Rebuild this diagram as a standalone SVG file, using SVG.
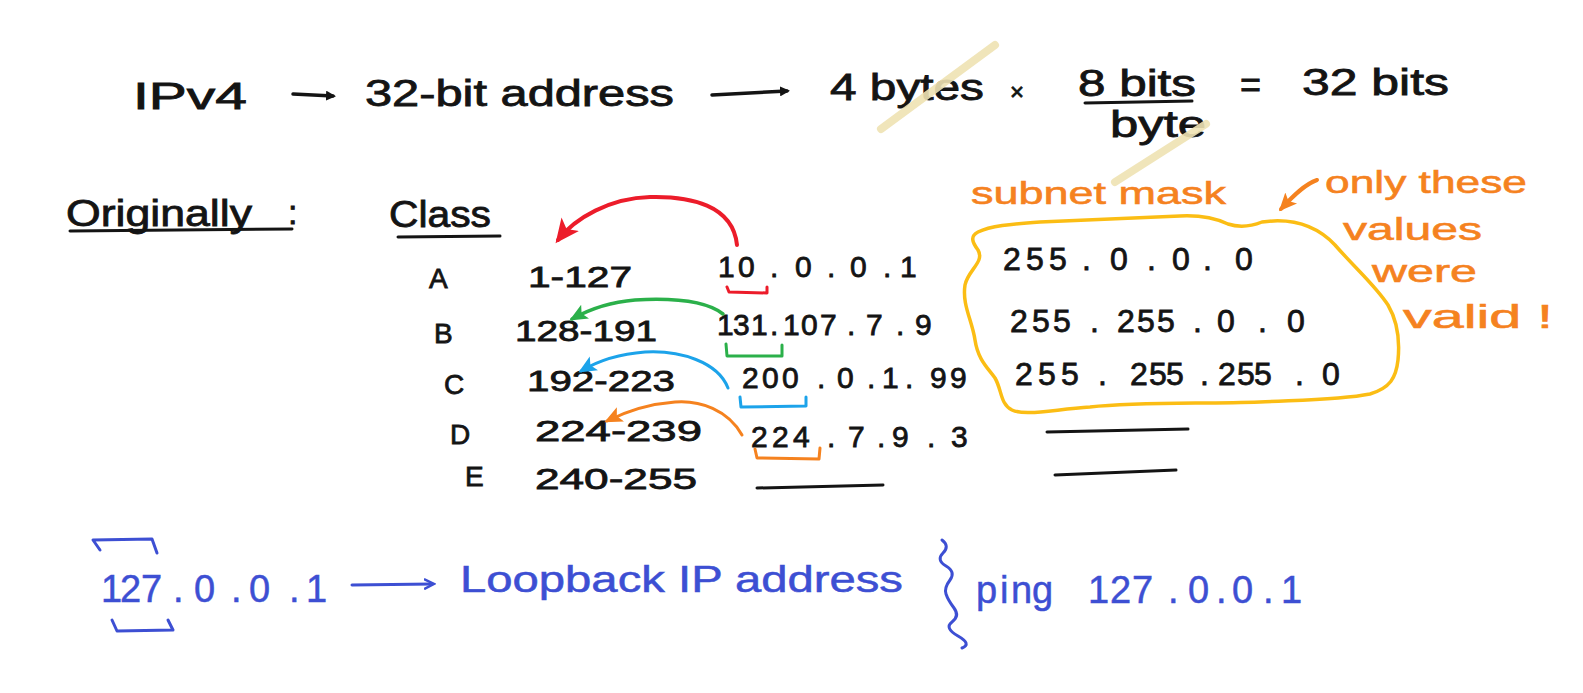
<svg xmlns="http://www.w3.org/2000/svg" width="1583" height="693" viewBox="0 0 1583 693">
<style>
text{font-family:"Liberation Sans","DejaVu Sans",sans-serif;}
.k{fill:#141414;stroke:#141414;stroke-width:0.8;}
.o{fill:#f5821f;stroke:#f5821f;stroke-width:0.6;}
.b{fill:#3d4fd3;stroke:#3d4fd3;stroke-width:0.5;}
.ln{fill:none;stroke-linecap:round;stroke-linejoin:round;}
</style>
<defs>
<marker id="hk" markerWidth="10" markerHeight="10" refX="7" refY="5" orient="auto" markerUnits="userSpaceOnUse"><path d="M0,0 L10,5 L0,10 z" fill="#141414"/></marker>
<marker id="hr" markerWidth="26" markerHeight="26" refX="20" refY="13" orient="auto" markerUnits="userSpaceOnUse"><path d="M0,2 L24,13 L0,24 L6,13 z" fill="#ec1c2a"/></marker>
<marker id="hg" markerWidth="20" markerHeight="20" refX="15" refY="10" orient="auto" markerUnits="userSpaceOnUse"><path d="M0,2 L18,10 L0,18 L4,10 z" fill="#2bb04a"/></marker>
<marker id="hb" markerWidth="20" markerHeight="20" refX="15" refY="10" orient="auto" markerUnits="userSpaceOnUse"><path d="M0,2 L18,10 L0,18 L4,10 z" fill="#1ca3ea"/></marker>
<marker id="ho" markerWidth="20" markerHeight="20" refX="15" refY="10" orient="auto" markerUnits="userSpaceOnUse"><path d="M0,2 L18,10 L0,18 L4,10 z" fill="#f5821f"/></marker>
<marker id="hu" markerWidth="12" markerHeight="12" refX="8" refY="6" orient="auto" markerUnits="userSpaceOnUse"><path d="M0,1 L10,6 L0,11" fill="none" stroke="#3d4fd3" stroke-width="2.5"/></marker>
</defs>
<rect width="1583" height="693" fill="#ffffff"/>

<!-- top row -->
<g id="ipv4"><text class="k" x="133" y="109" font-size="36" textLength="114" lengthAdjust="spacingAndGlyphs">IPv4</text></g>
<g id="addr"><text class="k" x="365" y="106" font-size="36" textLength="309" lengthAdjust="spacingAndGlyphs">32-bit address</text></g>
<g id="bytes"><text class="k" x="830" y="100" font-size="36" textLength="154" lengthAdjust="spacingAndGlyphs">4 bytes</text></g>
<g id="times"><text class="k" x="1010" y="100" font-size="24">×</text></g>
<g id="bits8"><text class="k" x="1078" y="96" font-size="36" textLength="118" lengthAdjust="spacingAndGlyphs">8 bits</text>
<path class="ln" d="M1085,103 L1192,101" stroke="#141414" stroke-width="3"/></g>
<g id="byte"><text class="k" x="1110" y="137" font-size="36" textLength="96" lengthAdjust="spacingAndGlyphs">byte</text></g>
<g id="result"><text class="k" x="1240" y="97" font-size="36">=</text>
<text class="k" x="1302" y="95" font-size="36" textLength="147" lengthAdjust="spacingAndGlyphs">32 bits</text></g>
<g id="strikes"><path class="ln" d="M881,129 L995,45" stroke="#eee2b2" stroke-width="8" opacity="0.9"/>
<path class="ln" d="M1115,182 L1206,124" stroke="#eee2b2" stroke-width="8" opacity="0.9"/></g>

<!-- headings -->
<g id="originally"><text class="k" x="66" y="226" font-size="36" textLength="186" lengthAdjust="spacingAndGlyphs">Originally</text>
<path class="ln" d="M70,231 L292,229" stroke="#141414" stroke-width="3"/>
<text class="k" x="288" y="224" font-size="34">:</text></g>
<g id="class"><text class="k" x="389" y="227" font-size="36" textLength="102" lengthAdjust="spacingAndGlyphs">Class</text>
<path class="ln" d="M398,237 L500,236" stroke="#141414" stroke-width="3"/></g>

<!-- class letters and ranges -->
<g id="classA"><text class="k" x="429" y="288" font-size="28">A</text><text class="k" x="528" y="287" font-size="30" textLength="104" lengthAdjust="spacingAndGlyphs">1-127</text></g>
<g id="classB"><text class="k" x="434" y="343" font-size="28">B</text><text class="k" x="515" y="341" font-size="30" textLength="142" lengthAdjust="spacingAndGlyphs">128-191</text></g>
<g id="classC"><text class="k" x="444" y="394" font-size="28">C</text><text class="k" x="527" y="391" font-size="30" textLength="148" lengthAdjust="spacingAndGlyphs">192-223</text></g>
<g id="classD"><text class="k" x="450" y="444" font-size="28">D</text><text class="k" x="535" y="441" font-size="30" textLength="167" lengthAdjust="spacingAndGlyphs">224-239</text></g>
<g id="classE"><text class="k" x="465" y="486" font-size="28">E</text><text class="k" x="535" y="489" font-size="30" textLength="162" lengthAdjust="spacingAndGlyphs">240-255</text></g>

<!-- example IPs -->
<g id="ipA"><text class="k" x="718 738 770 795 827 850 883 900" y="277" font-size="30">10.0.0.1</text></g>
<g id="ipB"><text class="k" x="717 733 751 770 783 801 820 847 866 896 915" y="335" font-size="30">131.107.7.9</text></g>
<g id="ipC"><text class="k" x="742 762 782 817 837 867 882 905 930 950" y="388" font-size="30">200.0.1.99</text></g>
<g id="ipD"><text class="k" x="751 772 793 827 848 877 892 927 951" y="447" font-size="30">224.7.9.3</text></g>
<g id="ipE"><path class="ln" d="M757,488 L883,485" stroke="#141414" stroke-width="3"/></g>

<!-- subnet masks -->
<g id="maskLabel"><text class="o" x="971" y="204" font-size="32" textLength="255" lengthAdjust="spacingAndGlyphs">subnet mask</text></g>
<g id="masks">
<path class="ln" d="M978,232 C990,226 1010,224 1040,222 C1080,220 1130,218 1180,216 C1200,215 1215,218 1228,224 C1240,228 1252,226 1262,222 C1290,218 1315,224 1335,245 C1355,268 1375,285 1388,305 C1398,322 1400,340 1398,360 C1396,378 1390,388 1370,394 C1340,400 1300,400 1260,402 C1200,404 1140,402 1090,407 C1050,410 1025,416 1012,410 C1000,404 1002,390 995,378 C988,368 978,360 975,340 C972,320 962,305 965,285 C968,270 985,262 978,250 C972,242 970,236 978,232 Z" stroke="#fbbd14" stroke-width="3.5"/>
<text class="k" x="1003 1026 1049 1082 1110 1147 1172 1203 1235" y="270" font-size="32">255.0.0.0</text>
<text class="k" x="1010 1032 1053 1090 1117 1137 1157 1193 1217 1258 1287" y="332" font-size="32">255.255.0.0</text>
<text class="k" x="1015 1038 1061 1098 1130 1149 1166 1200 1218 1237 1254 1295 1322" y="385" font-size="32">255.255.255.0</text>
<path class="ln" d="M1047,432 L1188,429" stroke="#141414" stroke-width="3"/>
<path class="ln" d="M1055,475 L1176,470" stroke="#141414" stroke-width="3"/>
</g>

<!-- note -->
<g id="note">
<text class="o" x="1325" y="193" font-size="32" textLength="202" lengthAdjust="spacingAndGlyphs">only these</text>
<text class="o" x="1343" y="240" font-size="32" textLength="139" lengthAdjust="spacingAndGlyphs">values</text>
<text class="o" x="1372" y="282" font-size="32" textLength="105" lengthAdjust="spacingAndGlyphs">were</text>
<text class="o" x="1403" y="328" font-size="34" textLength="150" lengthAdjust="spacingAndGlyphs">valid !</text>
</g>

<!-- loopback -->
<g id="loopback">
<path class="ln" d="M100,550 L93,540 L152,539 L157,553" stroke="#3d4fd3" stroke-width="3"/>
<text class="b" x="101 120 141 173 194 231 249 289 306" y="602" font-size="38">127.0.0.1</text>
<path class="ln" d="M112,620 L117,631 L173,630 L168,620" stroke="#3d4fd3" stroke-width="3"/>
<text class="b" x="460" y="592" font-size="36" textLength="443" lengthAdjust="spacingAndGlyphs">Loopback IP address</text>
<path class="ln" d="M942,540 Q950,546 943,553 T946,566 T950,580 T946,594 T954,608 T952,622 T958,636 T962,648" stroke="#3d4fd3" stroke-width="3"/>
<text class="b" x="976 1000 1011 1032 1059 1088 1110 1132 1168 1188 1216 1232 1263 1281" y="603" font-size="38">ping 127.0.0.1</text>
</g>

<!-- connectors -->
<g id="connectors">
<path class="ln" d="M293,94 L333,96" stroke="#141414" stroke-width="3.5" marker-end="url(#hk)"/>
<path class="ln" d="M712,95 L787,91" stroke="#141414" stroke-width="3.5" marker-end="url(#hk)"/>
<path class="ln" d="M737,245 C733,205 690,196 650,197 C610,198 575,218 558,240" stroke="#ec1c2a" stroke-width="4" marker-end="url(#hr)"/>
<path class="ln" d="M727,287 L729,292 L767,293 L767,287" stroke="#ec1c2a" stroke-width="3"/>
<path class="ln" d="M723,314 C705,300 670,298 635,300 C610,302 588,310 572,319" stroke="#2bb04a" stroke-width="3.5" marker-end="url(#hg)"/>
<path class="ln" d="M726,344 L727,356 L782,356 L782,345" stroke="#2bb04a" stroke-width="3"/>
<path class="ln" d="M728,388 C718,362 680,350 645,352 C618,354 596,362 581,371" stroke="#1ca3ea" stroke-width="3" marker-end="url(#hb)"/>
<path class="ln" d="M740,397 L741,407 L806,406 L806,397" stroke="#1ca3ea" stroke-width="3"/>
<path class="ln" d="M742,435 C728,410 700,400 675,402 C648,404 625,412 607,421" stroke="#f5821f" stroke-width="3" marker-end="url(#ho)"/>
<path class="ln" d="M755,449 L757,458 L819,459 L820,448" stroke="#f5821f" stroke-width="3"/>
<path class="ln" d="M1317,180 C1305,184 1293,196 1281,209" stroke="#f5821f" stroke-width="4" marker-end="url(#ho)"/>
<path class="ln" d="M352,585 L432,584" stroke="#3d4fd3" stroke-width="3" marker-end="url(#hu)"/>
</g>
</svg>
